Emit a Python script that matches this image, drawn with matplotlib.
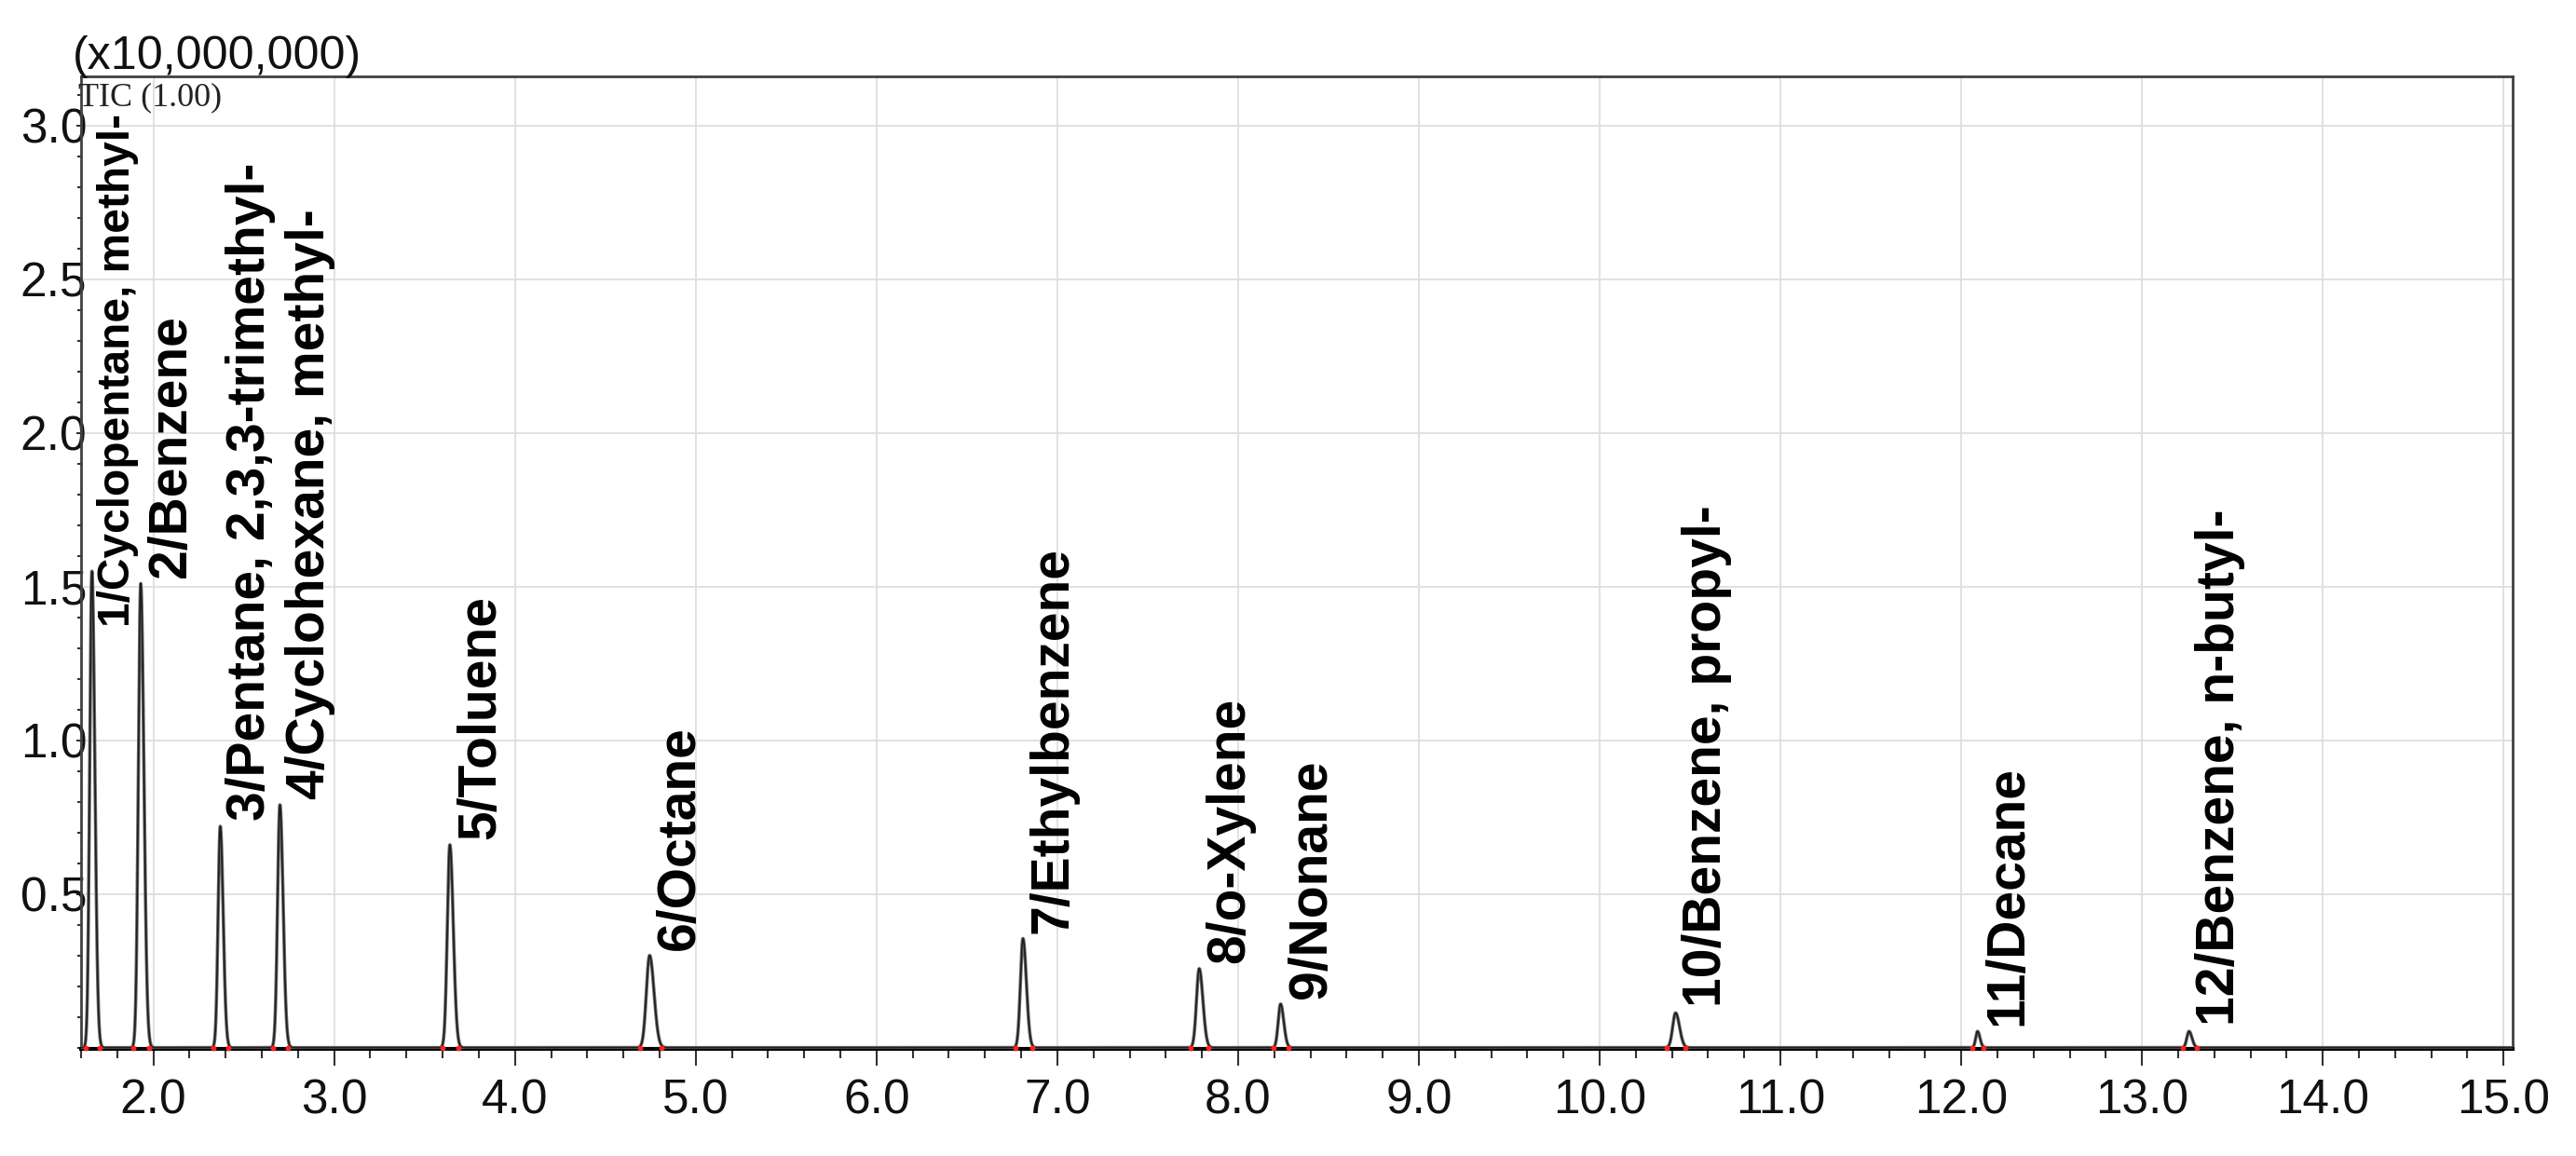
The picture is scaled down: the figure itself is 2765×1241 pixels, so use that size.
import numpy as np
import matplotlib
matplotlib.use("Agg")
import matplotlib.pyplot as plt
from matplotlib import font_manager as fm
from matplotlib.ticker import MultipleLocator, FixedLocator

# ---------------- data ----------------
compounds = [
    "1/Cyclopentane, methyl-",
    "2/Benzene",
    "3/Pentane, 2,3,3-trimethyl-",
    "4/Cyclohexane, methyl-",
    "5/Toluene",
    "6/Octane",
    "7/Ethylbenzene",
    "8/o-Xylene",
    "9/Nonane",
    "10/Benzene, propyl-",
    "11/Decane",
    "12/Benzene, n-butyl-",
]
retention_min = [1.66, 1.93, 2.37, 2.70, 3.64, 4.745, 6.81, 7.785, 8.235, 10.42, 12.09, 13.26]
peak_height = [1.55, 1.51, 0.72, 0.79, 0.66, 0.30, 0.355, 0.257, 0.142, 0.113, 0.053, 0.053]  # x10,000,000
peak_sigma = [0.012, 0.013, 0.012, 0.013, 0.014, 0.018, 0.014, 0.015, 0.013, 0.016, 0.010, 0.012]  # min

x_ticks = [2.0, 3.0, 4.0, 5.0, 6.0, 7.0, 8.0, 9.0, 10.0, 11.0, 12.0, 13.0, 14.0, 15.0]
x_tick_labels = ["2.0", "3.0", "4.0", "5.0", "6.0", "7.0", "8.0", "9.0", "10.0",
                 "11.0", "12.0", "13.0", "14.0", "15.0"]
y_ticks = [0.5, 1.0, 1.5, 2.0, 2.5, 3.0]
y_tick_labels = ["0.5", "1.0", "1.5", "2.0", "2.5", "3.0"]
scale_text = "(x10,000,000)"
trace_text = "TIC (1.00)"


def find_narrow(weight):
    """Return path of a narrow/condensed sans font if installed, else None."""
    for fam in ["Liberation Sans Narrow", "Liberation Sans", "Arial Narrow"]:
        try:
            p = fm.findfont(fm.FontProperties(family=fam, stretch="condensed", weight=weight),
                            fallback_to_default=False)
            if "Narrow" in p or "Condensed" in p:
                return p
        except Exception:
            pass
    return None


narrow_reg = find_narrow("normal")
narrow_bold = find_narrow("bold")


def fp(size, bold=False, narrow=False, family="Liberation Sans"):
    if narrow:
        path = narrow_bold if bold else narrow_reg
        if path:
            return fm.FontProperties(fname=path, size=size)
        return fm.FontProperties(family=family, weight="bold" if bold else "normal",
                                 size=size * 0.84)
    return fm.FontProperties(family=family, weight="bold" if bold else "normal", size=size)


W, H = 2765, 1241
fig = plt.figure(figsize=(W / 100, H / 100), dpi=100)
ax_left, ax_right, ax_top, ax_bot = 87, 2697, 82, 1126
ax = fig.add_axes([ax_left / W, 1 - ax_bot / H, (ax_right - ax_left) / W, (ax_bot - ax_top) / H])

# ---------------- chromatogram trace ----------------
x = np.linspace(1.6, 15.05, 30000)
y = np.zeros_like(x)
for rt, h, s in zip(retention_min, peak_height, peak_sigma):
    sig = np.where(x < rt, s, s * 1.35)  # slight tailing
    y += h * np.exp(-0.5 * ((x - rt) / sig) ** 2)

ax.plot(x, y, color="#6a6a6a", lw=2.6, zorder=3, solid_joinstyle="round")
ax.plot(x, y, color="#1e1e1e", lw=1.2, zorder=3, solid_joinstyle="round")

# integration start/end marks
for rt, s in zip(retention_min, peak_sigma):
    ax.plot([rt - 3 * s, rt + 3.5 * s], [0, 0], ls="none", marker="o", ms=3.2,
            color="#ff2020", zorder=4, clip_on=False)

# ---------------- peak labels ----------------
for i, (name, rt, h) in enumerate(zip(compounds, retention_min, peak_height)):
    if i == 0:
        ax.text(rt + 0.145, 3.04, name, rotation=90, ha="center", va="top",
                fontproperties=fp(41, bold=True, narrow=True), color="black", zorder=5)
    else:
        ax.text(rt + 0.17, h + 0.018, name, rotation=90, ha="center", va="bottom",
                fontproperties=fp(41, bold=True), color="black", zorder=5)

# ---------------- axes styling ----------------
ax.set_xlim(1.6, 15.05)
ax.set_ylim(-0.004, 3.16)

ax.xaxis.set_major_locator(FixedLocator(x_ticks))
ax.set_xticklabels(x_tick_labels)
ax.xaxis.set_minor_locator(MultipleLocator(0.2))
ax.yaxis.set_major_locator(FixedLocator(y_ticks))
ax.set_yticklabels(y_tick_labels)
ax.yaxis.set_minor_locator(MultipleLocator(0.1))

tick_fp = fp(44, narrow=True)
for lab in ax.get_xticklabels() + ax.get_yticklabels():
    lab.set_fontproperties(tick_fp)
    lab.set_color("#111111")

ax.tick_params(axis="x", which="major", direction="out", length=13, width=1.5,
               color="#333333", pad=10)
ax.tick_params(axis="x", which="minor", direction="out", length=7, width=1.5,
               color="#333333")
ax.tick_params(axis="y", which="major", direction="out", length=3.5, width=1.5,
               color="#333333", pad=-8)
ax.tick_params(axis="y", which="minor", direction="out", length=3.0, width=1.5,
               color="#333333")

ax.grid(True, which="major", color="#dedede", lw=1.3, zorder=0)
ax.set_axisbelow(True)

for side in ["left", "top", "right"]:
    ax.spines[side].set_color("#404040")
    ax.spines[side].set_linewidth(2.0)
ax.spines["bottom"].set_color("black")
ax.spines["bottom"].set_linewidth(3.0)

# ---------------- header texts ----------------
fig.text(78 / W, 1 - 84 / H, scale_text, ha="left", va="bottom",
         fontproperties=fp(43, narrow=True), color="#111111")
ax.text(-0.001, 1 - 6 / (ax_bot - ax_top), trace_text, transform=ax.transAxes,
        ha="left", va="top", fontproperties=fp(26, family="Liberation Serif"),
        color="#222222", zorder=6)

fig.savefig("out.png", dpi=100)
